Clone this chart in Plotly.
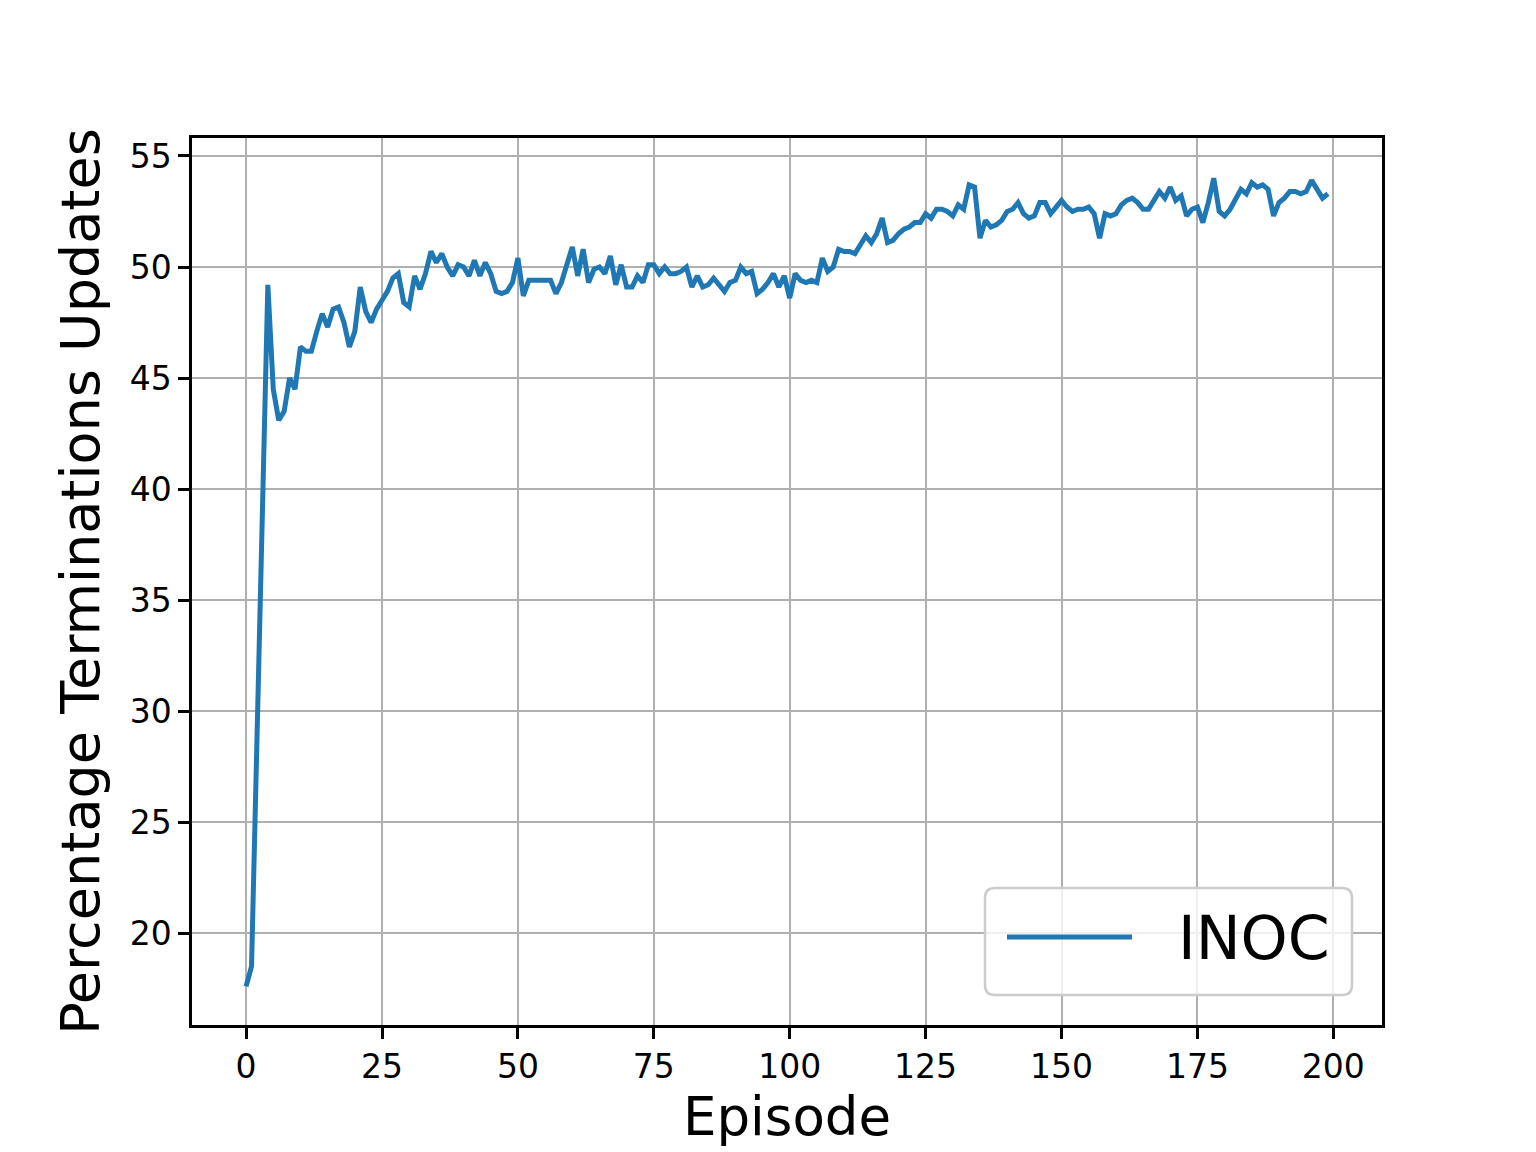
import plotly.graph_objects as go

episodes = list(range(200))
inoc = [
    17.6, 18.5, 28.7, 38.9, 49.2, 44.5, 43.1, 43.5, 45.0, 44.5,
    46.4, 46.2, 46.2, 47.1, 47.9, 47.3, 48.1, 48.2, 47.5, 46.4,
    47.1, 49.1, 48.0, 47.5, 48.1, 48.5, 48.9, 49.5, 49.7, 48.4,
    48.2, 49.6, 49.0, 49.7, 50.7, 50.2, 50.6, 50.0, 49.6, 50.1,
    50.0, 49.6, 50.3, 49.6, 50.2, 49.7, 48.9, 48.8, 48.9, 49.3,
    50.4, 48.7, 49.4, 49.4, 49.4, 49.4, 49.4, 48.8, 49.3, 50.1,
    50.9, 49.6, 50.8, 49.3, 49.9, 50.0, 49.7, 50.5, 49.2, 50.1,
    49.1, 49.1, 49.6, 49.3, 50.1, 50.1, 49.7, 50.0, 49.7, 49.7,
    49.8, 50.0, 49.1, 49.6, 49.1, 49.2, 49.5, 49.2, 48.9, 49.3,
    49.4, 50.0, 49.7, 49.8, 48.8, 49.0, 49.3, 49.7, 49.1, 49.6,
    48.6, 49.7, 49.4, 49.3, 49.4, 49.3, 50.4, 49.8, 50.0, 50.8,
    50.7, 50.7, 50.6, 51.0, 51.4, 51.1, 51.5, 52.2, 51.1, 51.2,
    51.5, 51.7, 51.8, 52.0, 52.0, 52.4, 52.2, 52.6, 52.6, 52.5,
    52.3, 52.8, 52.6, 53.7, 53.6, 51.3, 52.1, 51.8, 51.9, 52.1,
    52.5, 52.6, 52.9, 52.4, 52.2, 52.3, 52.9, 52.9, 52.4, 52.7,
    53.0, 52.7, 52.5, 52.6, 52.6, 52.7, 52.4, 51.3, 52.4, 52.3,
    52.4, 52.8, 53.0, 53.1, 52.9, 52.6, 52.6, 53.0, 53.4, 53.1,
    53.6, 53.0, 53.2, 52.3, 52.6, 52.7, 52.0, 52.9, 54.0, 52.5,
    52.3, 52.6, 53.1, 53.5, 53.3, 53.8, 53.6, 53.7, 53.5, 52.3,
    52.9, 53.1, 53.4, 53.4, 53.3, 53.4, 53.9, 53.5, 53.1, 53.3,
]
x_ticks = [0, 25, 50, 75, 100, 125, 150, 175, 200]
y_ticks = [20, 25, 30, 35, 40, 45, 50, 55]
series_name = "INOC"
line_color = "#1f77b4"

W, H = 1536, 1152
OFF = 8  # page body margin
L, R, T, B = 192, 1382, 138, 1025  # plot area in screen pixels
pw, ph = R - L, B - T

def px(xp):
    return (xp - L) / pw

def py(yp):
    return (B - yp) / ph

fig = go.Figure()
fig.add_trace(go.Scatter(
    x=episodes, y=inoc, mode="lines", name=series_name,
    line=dict(color=line_color, width=5), showlegend=False,
))

# legend: rounded box, sample line, label
x0, x1 = px(985), px(1352)
y0, y1 = py(995), py(888)
rx, ry = 10 / pw, 10 / ph
path = (f"M {x0+rx},{y0} L {x1-rx},{y0} Q {x1},{y0} {x1},{y0+ry} "
        f"L {x1},{y1-ry} Q {x1},{y1} {x1-rx},{y1} L {x0+rx},{y1} "
        f"Q {x0},{y1} {x0},{y1-ry} L {x0},{y0+ry} Q {x0},{y0} {x0+rx},{y0} Z")
fig.add_shape(type="path", path=path, xref="paper", yref="paper",
              line=dict(color="#cccccc", width=2.5),
              fillcolor="rgba(255,255,255,0.8)", layer="above")
fig.add_shape(type="line", xref="paper", yref="paper",
              x0=px(1007), x1=px(1132), y0=py(937), y1=py(937),
              line=dict(color=line_color, width=5), layer="above")
fig.add_annotation(text=series_name, xref="paper", yref="paper",
                   x=px(1176), y=py(938), xanchor="left", yanchor="middle",
                   showarrow=False,
                   font=dict(family="DejaVu Sans", size=60, color="black"))

axis_common = dict(
    showgrid=True, gridcolor="#b0b0b0", gridwidth=2,
    showline=True, linecolor="black", linewidth=2.5, mirror=True,
    ticks="outside", ticklen=11, tickwidth=2.5, tickcolor="black",
    tickfont=dict(family="DejaVu Sans", size=33, color="black"),
    zeroline=False,
)

fig.update_layout(
    width=W, height=H,
    margin=dict(l=L - OFF, r=W - R + OFF, t=T - OFF, b=H - B + OFF),
    plot_bgcolor="white", paper_bgcolor="white",
    xaxis=dict(range=[-9.95, 208.95], tickvals=x_ticks,
               title=dict(text="Episode", font=dict(family="DejaVu Sans", size=53, color="black"), standoff=10),
               **axis_common),
    yaxis=dict(range=[15.86, 55.81], tickvals=y_ticks,
               title=dict(text="Percentage Terminations Updates", font=dict(family="DejaVu Sans", size=54, color="black"), standoff=13),
               **axis_common),
    showlegend=False,
)

fig.write_html("out.html")
